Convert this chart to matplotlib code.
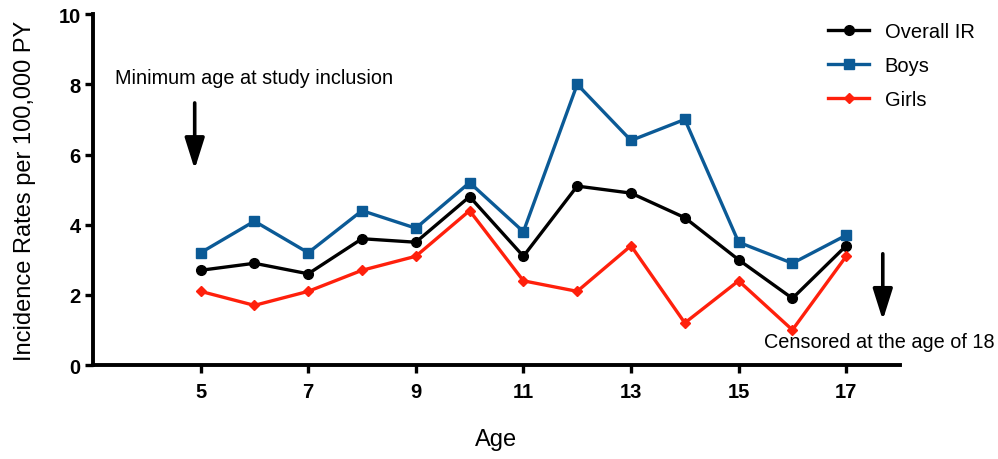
import matplotlib.pyplot as plt
import numpy as np

plt.rcParams['font.family'] = ['Liberation Sans', 'DejaVu Sans']

# Data
ages = [5, 6, 7, 8, 9, 10, 11, 12, 13, 14, 15, 16, 17]
overall = [2.7, 2.9, 2.6, 3.6, 3.5, 4.8, 3.1, 5.1, 4.9, 4.2, 3.0, 1.9, 3.4]
boys = [3.2, 4.1, 3.2, 4.4, 3.9, 5.2, 3.8, 8.0, 6.4, 7.0, 3.5, 2.9, 3.7]
girls = [2.1, 1.7, 2.1, 2.7, 3.1, 4.4, 2.4, 2.1, 3.4, 1.2, 2.4, 1.0, 3.1]
x_ticks = [5, 7, 9, 11, 13, 15, 17]
y_ticks = [0, 2, 4, 6, 8, 10]

fig = plt.figure(figsize=(9.98, 4.6), dpi=100)
ax = fig.add_axes([0.0932, 0.2043, 0.8086, 0.7627])

ax.plot(ages, overall, color='black', marker='o', markersize=7, linewidth=2.4, label='Overall IR')
ax.plot(ages, boys, color='#0b5a96', marker='s', markersize=7, linewidth=2.4, label='Boys')
ax.plot(ages, girls, color='#ff200c', marker='D', markersize=5, linewidth=2.4, label='Girls')

ax.set_xlim(3, 18)
ax.set_ylim(0, 10)
ax.set_xticks(x_ticks)
ax.set_yticks(y_ticks)
for lbl in ax.get_xticklabels() + ax.get_yticklabels():
    lbl.set_fontweight('bold')
    lbl.set_fontsize(14.5)

ax.spines['top'].set_visible(False)
ax.spines['right'].set_visible(False)
ax.spines['left'].set_linewidth(2.8)
ax.spines['bottom'].set_linewidth(2.8)
ax.tick_params(width=2.4, length=6, pad=3)
ax.tick_params(axis='x', pad=6)

ax.set_xlabel('Age', fontsize=17, labelpad=20)
ax.set_ylabel('Incidence Rates per 100,000 PY', fontsize=17, labelpad=16)

# annotations with arrows
arrow_style = dict(arrowstyle='-|>,head_width=0.6,head_length=1.9', color='black', lw=2.6)
ax.text(3.41, 8.2, 'Minimum age at study inclusion', fontsize=14.3, va='center', ha='left')
ax.annotate('', xy=(4.89, 5.5), xytext=(4.89, 7.55), arrowprops=arrow_style)
ax.text(15.48, 0.68, 'Censored at the age of 18', fontsize=14.3, va='center', ha='left', clip_on=False)
ax.annotate('', xy=(17.68, 1.2), xytext=(17.68, 3.25), arrowprops=arrow_style)

ax.legend(loc='upper right', bbox_to_anchor=(1.115, 1.03), frameon=False, fontsize=14.5,
          handlelength=2.0, labelspacing=0.75, handletextpad=0.8)

plt.savefig('out.png', dpi=100)
